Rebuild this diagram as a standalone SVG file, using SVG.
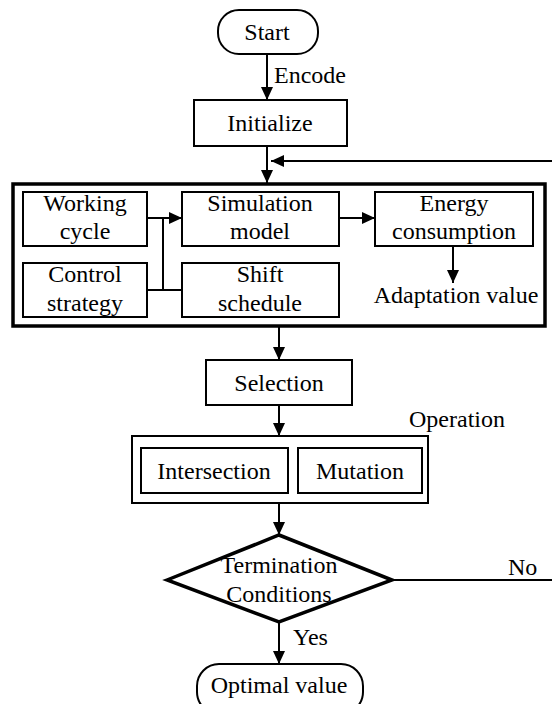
<svg xmlns="http://www.w3.org/2000/svg" width="552" height="704" viewBox="0 0 552 704">
<defs>
<marker id="ah" markerUnits="userSpaceOnUse" markerWidth="14" markerHeight="14" refX="13" refY="6" orient="auto">
<path d="M0,0 L13,6 L0,12 Z" fill="#000"/>
</marker>
</defs>
<rect width="552" height="704" fill="#fff"/>
<g id="evaluation">
<rect x="13" y="184" width="532" height="142" fill="none" stroke="#000" stroke-width="3.5"/>
</g>
<g id="connectors" fill="none" stroke="#000" stroke-width="2">
<line x1="267" y1="54" x2="267" y2="100" marker-end="url(#ah)"/>
<line x1="267" y1="146" x2="267" y2="183" marker-end="url(#ah)"/>
<line x1="552" y1="161" x2="271" y2="161" marker-end="url(#ah)"/>
<line x1="147" y1="218" x2="182" y2="218" marker-end="url(#ah)"/>
<polyline points="163,218 163,290"/>
<line x1="147" y1="290" x2="182" y2="290"/>
<line x1="339" y1="218" x2="375" y2="218" marker-end="url(#ah)"/>
<line x1="453" y1="246" x2="453" y2="283" marker-end="url(#ah)"/>
<line x1="279" y1="326" x2="279" y2="360" marker-end="url(#ah)"/>
<line x1="279" y1="405" x2="279" y2="436" marker-end="url(#ah)"/>
<line x1="279" y1="503" x2="279" y2="535" marker-end="url(#ah)"/>
<line x1="392" y1="580" x2="552" y2="580"/>
<line x1="279" y1="622" x2="279" y2="664" marker-end="url(#ah)"/>
<text x="274" y="83" fill="#000" stroke="none" font-family="Liberation Serif" font-size="24">Encode</text>
<text x="508" y="575" fill="#000" stroke="none" font-family="Liberation Serif" font-size="24">No</text>
<text x="293" y="645" fill="#000" stroke="none" font-family="Liberation Serif" font-size="24">Yes</text>
</g>
<g id="start">
<rect x="218" y="10" width="100" height="44" rx="21" fill="#fff" stroke="#000" stroke-width="2"/>
<text x="267" y="40" font-family="Liberation Serif" font-size="24" text-anchor="middle">Start</text>
</g>
<g id="initialize">
<rect x="194" y="100" width="153" height="46" fill="#fff" stroke="#000" stroke-width="2"/>
<text x="270" y="131" font-family="Liberation Serif" font-size="24" text-anchor="middle">Initialize</text>
</g>
<g id="working-cycle">
<rect x="23" y="192" width="124" height="54" fill="#fff" stroke="#000" stroke-width="2"/>
<text x="85" y="211" font-family="Liberation Serif" font-size="24" text-anchor="middle">Working</text>
<text x="85" y="239" font-family="Liberation Serif" font-size="24" text-anchor="middle">cycle</text>
</g>
<g id="control-strategy">
<rect x="23" y="263" width="124" height="54" fill="#fff" stroke="#000" stroke-width="2"/>
<text x="85" y="282" font-family="Liberation Serif" font-size="24" text-anchor="middle">Control</text>
<text x="85" y="311" font-family="Liberation Serif" font-size="24" text-anchor="middle">strategy</text>
</g>
<g id="simulation-model">
<rect x="182" y="192" width="157" height="54" fill="#fff" stroke="#000" stroke-width="2"/>
<text x="260" y="211" font-family="Liberation Serif" font-size="24" text-anchor="middle">Simulation</text>
<text x="260" y="239" font-family="Liberation Serif" font-size="24" text-anchor="middle">model</text>
</g>
<g id="shift-schedule">
<rect x="182" y="263" width="157" height="54" fill="#fff" stroke="#000" stroke-width="2"/>
<text x="260" y="282" font-family="Liberation Serif" font-size="24" text-anchor="middle">Shift</text>
<text x="260" y="311" font-family="Liberation Serif" font-size="24" text-anchor="middle">schedule</text>
</g>
<g id="energy-consumption">
<rect x="375" y="192" width="158" height="54" fill="#fff" stroke="#000" stroke-width="2"/>
<text x="454" y="211" font-family="Liberation Serif" font-size="24" text-anchor="middle">Energy</text>
<text x="454" y="239" font-family="Liberation Serif" font-size="24" text-anchor="middle">consumption</text>
</g>
<g id="adaptation-value">
<text x="456" y="303" font-family="Liberation Serif" font-size="24" text-anchor="middle">Adaptation value</text>
</g>
<g id="selection">
<rect x="206" y="360" width="146" height="45" fill="#fff" stroke="#000" stroke-width="2"/>
<text x="279" y="391" font-family="Liberation Serif" font-size="24" text-anchor="middle">Selection</text>
</g>
<g id="operation">
<rect x="132" y="436" width="296" height="67" fill="#fff" stroke="#000" stroke-width="2"/>
<text x="409" y="427" font-family="Liberation Serif" font-size="24">Operation</text>
</g>
<g id="intersection">
<rect x="141" y="448" width="147" height="45" fill="#fff" stroke="#000" stroke-width="2"/>
<text x="214" y="479" font-family="Liberation Serif" font-size="24" text-anchor="middle">Intersection</text>
</g>
<g id="mutation">
<rect x="298" y="448" width="124" height="45" fill="#fff" stroke="#000" stroke-width="2"/>
<text x="360" y="479" font-family="Liberation Serif" font-size="24" text-anchor="middle">Mutation</text>
</g>
<g id="termination">
<polygon points="167,580 279,535 392,580 279,622" fill="#fff" stroke="#000" stroke-width="3.5"/>
<text x="279" y="573" font-family="Liberation Serif" font-size="24" text-anchor="middle">Termination</text>
<text x="279" y="602" font-family="Liberation Serif" font-size="24" text-anchor="middle">Conditions</text>
</g>
<g id="optimal-value">
<rect x="197" y="664" width="166" height="50" rx="22" fill="#fff" stroke="#000" stroke-width="2"/>
<text x="279" y="693" font-family="Liberation Serif" font-size="24" text-anchor="middle">Optimal value</text>
</g>
</svg>
